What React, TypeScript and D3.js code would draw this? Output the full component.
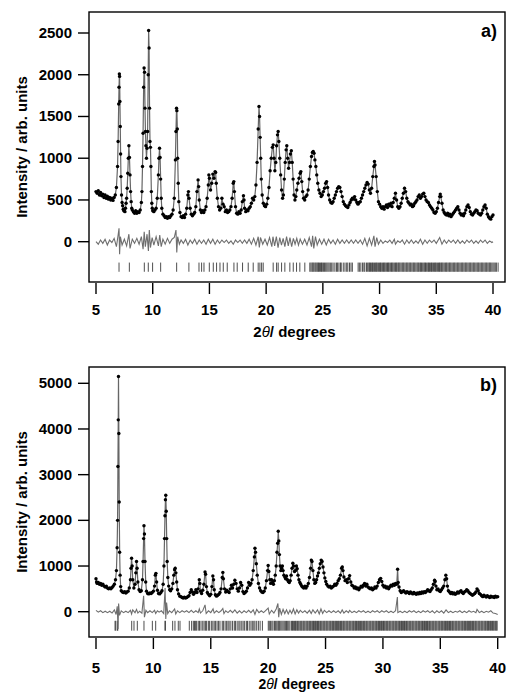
import React from "react";
import * as d3 from "d3";

// x ticks shared by both panels
const xTicks = [5, 10, 15, 20, 25, 30, 35, 40];
const yTicksA = [0, 500, 1000, 1500, 2000, 2500];
const yTicksB = [0, 1000, 2000, 3000, 4000, 5000];

// panel a) observed pattern, [2theta, intensity]
const obsA: [number, number][] = [
  [5.0, 600], [5.1, 580], [5.2, 610], [5.3, 560], [5.4, 590], [5.5, 550], [5.6, 570], [5.7, 530], [5.8, 560], [5.9, 520],
  [6.0, 545], [6.1, 510], [6.2, 530], [6.3, 500], [6.4, 520], [6.5, 495], [6.6, 530], [6.7, 560], [6.8, 650], [6.9, 900],
  [6.95, 1200], [7.0, 1650], [7.03, 1850], [7.06, 2010], [7.08, 1980], [7.11, 1680], [7.14, 1380], [7.17, 1050], [7.2, 780],
  [7.25, 560], [7.3, 470], [7.35, 430], [7.4, 390], [7.45, 370], [7.5, 380], [7.55, 360], [7.6, 400], [7.65, 460], [7.7, 520],
  [7.75, 640], [7.8, 820], [7.85, 1000], [7.9, 1150], [7.95, 1010], [8.0, 800], [8.05, 600], [8.1, 480], [8.15, 400], [8.2, 380],
  [8.3, 360], [8.4, 340], [8.5, 370], [8.6, 340], [8.7, 360], [8.8, 350], [8.9, 380], [9.0, 470], [9.05, 600], [9.1, 900],
  [9.15, 1300], [9.2, 1850], [9.24, 2080], [9.28, 2030], [9.32, 1600], [9.36, 1320], [9.4, 1150], [9.45, 1000], [9.5, 1120],
  [9.55, 1320], [9.6, 2000], [9.64, 2530], [9.68, 2320], [9.72, 1600], [9.76, 1200], [9.8, 1130], [9.84, 900], [9.88, 600],
  [9.92, 460], [9.96, 400], [10.0, 370], [10.1, 360], [10.2, 380], [10.3, 400], [10.4, 520], [10.5, 800], [10.55, 1000],
  [10.6, 1120], [10.65, 1010], [10.7, 750], [10.75, 520], [10.8, 400], [10.9, 330], [11.0, 310], [11.1, 290], [11.2, 300],
  [11.3, 280], [11.4, 300], [11.5, 290], [11.6, 310], [11.7, 330], [11.8, 380], [11.9, 520], [12.0, 980], [12.05, 1320],
  [12.1, 1600], [12.13, 1570], [12.17, 1350], [12.2, 1000], [12.25, 700], [12.3, 480], [12.4, 350], [12.5, 300], [12.6, 290],
  [12.7, 310], [12.8, 290], [12.9, 330], [13.0, 400], [13.1, 560], [13.15, 600], [13.2, 520], [13.3, 400], [13.4, 330],
  [13.5, 310], [13.6, 330], [13.7, 350], [13.8, 420], [13.9, 600], [14.0, 740], [14.05, 660], [14.1, 500], [14.2, 380],
  [14.3, 350], [14.4, 370], [14.5, 350], [14.6, 380], [14.7, 420], [14.8, 520], [14.9, 680], [14.95, 800], [15.0, 760],
  [15.1, 620], [15.2, 700], [15.3, 810], [15.4, 760], [15.5, 840], [15.55, 830], [15.6, 700], [15.7, 520], [15.8, 420],
  [15.9, 380], [16.0, 400], [16.1, 520], [16.2, 450], [16.3, 420], [16.4, 360], [16.5, 380], [16.6, 350], [16.7, 360],
  [16.8, 380], [16.9, 420], [17.0, 520], [17.1, 700], [17.15, 720], [17.2, 600], [17.3, 420], [17.4, 340], [17.5, 330],
  [17.6, 360], [17.7, 340], [17.8, 380], [17.9, 480], [18.0, 550], [18.05, 500], [18.1, 400], [18.2, 360], [18.3, 380],
  [18.4, 370], [18.5, 400], [18.6, 420], [18.7, 460], [18.8, 520], [18.9, 500], [19.0, 540], [19.1, 680], [19.2, 950],
  [19.3, 1350], [19.37, 1620], [19.42, 1500], [19.47, 1250], [19.52, 1000], [19.57, 750], [19.65, 560], [19.75, 460],
  [19.85, 430], [19.95, 420], [20.05, 450], [20.15, 520], [20.25, 650], [20.35, 850], [20.45, 1000], [20.55, 1130],
  [20.62, 1160], [20.7, 1000], [20.77, 850], [20.85, 950], [20.92, 1150], [21.0, 1280], [21.06, 1320], [21.12, 1200],
  [21.2, 1000], [21.28, 800], [21.36, 620], [21.45, 520], [21.52, 560], [21.6, 750], [21.68, 950], [21.76, 1100],
  [21.82, 1150], [21.9, 1000], [21.98, 880], [22.06, 950], [22.14, 1050], [22.22, 1090], [22.3, 950], [22.38, 750],
  [22.46, 560], [22.54, 500], [22.62, 540], [22.7, 620], [22.8, 700], [22.9, 760], [23.0, 820], [23.06, 840], [23.14, 720],
  [23.22, 600], [23.3, 520], [23.4, 500], [23.5, 540], [23.6, 560], [23.7, 620], [23.8, 750], [23.9, 900], [24.0, 1020],
  [24.08, 1070], [24.15, 1080], [24.22, 1060], [24.3, 980], [24.38, 900], [24.46, 800], [24.55, 700], [24.65, 620],
  [24.75, 580], [24.85, 540], [24.95, 560], [25.05, 600], [25.15, 640], [25.25, 700], [25.33, 720], [25.42, 650],
  [25.5, 560], [25.6, 500], [25.7, 470], [25.8, 460], [25.9, 480], [26.0, 520], [26.1, 560], [26.2, 600], [26.3, 640],
  [26.4, 660], [26.5, 650], [26.6, 600], [26.7, 540], [26.8, 480], [26.9, 450], [27.0, 430], [27.1, 420], [27.2, 410],
  [27.3, 440], [27.4, 470], [27.5, 500], [27.6, 520], [27.7, 510], [27.8, 540], [27.9, 500], [28.0, 470], [28.1, 450],
  [28.2, 470], [28.3, 480], [28.4, 520], [28.5, 560], [28.6, 600], [28.7, 640], [28.8, 680], [28.9, 710], [29.0, 690],
  [29.1, 620], [29.2, 580], [29.3, 640], [29.4, 780], [29.5, 900], [29.55, 960], [29.6, 920], [29.7, 780], [29.8, 600],
  [29.9, 480], [30.0, 450], [30.1, 420], [30.2, 400], [30.3, 420], [30.4, 390], [30.5, 420], [30.6, 440], [30.7, 410],
  [30.8, 450], [30.9, 430], [31.0, 460], [31.1, 420], [31.2, 470], [31.3, 520], [31.4, 580], [31.5, 500], [31.6, 420],
  [31.7, 400], [31.8, 420], [31.9, 460], [32.0, 520], [32.1, 580], [32.2, 640], [32.3, 600], [32.4, 520], [32.5, 480],
  [32.6, 460], [32.7, 440], [32.8, 450], [32.9, 420], [33.0, 430], [33.1, 460], [33.2, 480], [33.3, 500], [33.4, 540],
  [33.5, 560], [33.6, 520], [33.7, 540], [33.8, 570], [33.9, 580], [34.0, 540], [34.1, 500], [34.2, 480], [34.3, 470],
  [34.4, 440], [34.5, 420], [34.6, 400], [34.7, 380], [34.8, 350], [34.9, 340], [35.0, 360], [35.1, 400], [35.2, 470],
  [35.3, 540], [35.35, 570], [35.4, 540], [35.5, 460], [35.6, 380], [35.7, 350], [35.8, 330], [35.9, 320], [36.0, 340],
  [36.1, 310], [36.2, 330], [36.3, 300], [36.4, 320], [36.5, 340], [36.6, 360], [36.7, 380], [36.8, 400], [36.9, 420],
  [37.0, 380], [37.1, 340], [37.2, 320], [37.3, 330], [37.4, 310], [37.5, 340], [37.6, 380], [37.7, 420], [37.8, 440],
  [37.9, 410], [38.0, 360], [38.1, 330], [38.2, 320], [38.3, 340], [38.4, 360], [38.5, 380], [38.6, 370], [38.7, 340],
  [38.8, 330], [38.9, 320], [39.0, 340], [39.1, 380], [39.2, 420], [39.3, 440], [39.4, 400], [39.5, 330], [39.6, 300],
  [39.7, 280], [39.8, 270], [39.9, 300], [40.0, 320],
];

// panel a) difference curve
const residA: [number, number][] = [
  [5.0, 0], [5.2, -30], [5.4, 20], [5.6, -20], [5.8, 30], [6.0, -40], [6.2, 20], [6.4, -10], [6.6, 40], [6.8, -60],
  [6.95, 80], [7.03, 160], [7.08, -150], [7.15, 60], [7.3, -40], [7.5, 30], [7.7, -50], [7.9, 90], [8.0, -80], [8.2, 30],
  [8.4, -20], [8.6, 40], [8.8, -30], [9.0, 60], [9.15, -90], [9.25, 120], [9.35, -60], [9.5, 90], [9.62, -110], [9.7, 140],
  [9.8, -70], [9.95, 50], [10.1, -40], [10.3, 60], [10.5, -50], [10.62, 80], [10.75, -60], [10.9, 30], [11.1, -30],
  [11.3, 40], [11.5, -20], [11.7, 30], [11.9, 50], [12.05, 140], [12.12, -130], [12.2, 60], [12.35, -30], [12.5, 20],
  [12.7, -20], [12.9, 30], [13.1, -40], [13.3, 20], [13.5, -20], [13.7, 30], [13.9, -30], [14.1, 20], [14.3, -20],
  [14.5, 20], [14.7, -30], [14.9, 30], [15.1, -20], [15.3, 30], [15.5, -30], [15.7, 20], [15.9, -20], [16.1, 20],
  [16.3, -10], [16.5, 20], [16.7, -20], [16.9, 10], [17.1, -30], [17.3, 20], [17.5, -10], [17.7, 20], [17.9, -20],
  [18.1, 20], [18.3, -20], [18.5, 30], [18.7, -30], [18.9, 40], [19.1, -40], [19.3, 60], [19.4, -70], [19.5, 50],
  [19.7, -30], [19.9, 30], [20.1, -40], [20.3, 50], [20.5, -60], [20.6, 60], [20.75, -50], [20.9, 60], [21.05, -70],
  [21.2, 50], [21.35, -40], [21.5, 40], [21.65, -60], [21.8, 60], [21.95, -50], [22.1, 50], [22.25, -60], [22.4, 40],
  [22.55, -30], [22.7, 40], [22.85, -40], [23.0, 30], [23.2, -30], [23.4, 30], [23.6, -40], [23.8, 50], [24.0, -60],
  [24.1, 70], [24.2, -80], [24.35, 60], [24.5, -40], [24.7, 30], [24.9, -30], [25.1, 30], [25.3, -40], [25.5, 30],
  [25.7, -20], [25.9, 20], [26.1, -30], [26.3, 30], [26.5, -20], [26.7, 20], [26.9, -20], [27.1, 20], [27.3, -20],
  [27.5, 20], [27.7, -20], [27.9, 20], [28.1, -20], [28.3, 20], [28.5, -30], [28.7, 40], [28.9, -50], [29.1, 40],
  [29.3, -40], [29.5, 70], [29.6, -60], [29.75, 50], [29.9, -30], [30.1, 20], [30.3, -20], [30.5, 10], [30.7, -10],
  [30.9, 20], [31.1, -20], [31.3, 30], [31.4, -30], [31.6, 10], [31.8, -10], [32.0, 20], [32.2, -30], [32.4, 20],
  [32.6, -20], [32.8, 20], [33.0, -20], [33.2, 10], [33.4, -20], [33.6, 30], [33.8, -30], [34.0, 20], [34.2, -20],
  [34.4, 20], [34.6, -10], [34.8, 20], [35.0, -20], [35.3, 50], [35.5, -30], [35.7, 20], [35.9, -20], [36.1, 20],
  [36.3, -10], [36.5, 20], [36.7, -20], [36.9, 20], [37.1, -20], [37.3, 10], [37.5, -20], [37.7, 20], [37.9, -10],
  [38.1, 20], [38.3, -20], [38.5, 10], [38.7, -20], [38.9, 20], [39.1, -10], [39.3, 20], [39.5, -20], [39.7, 10],
  [39.9, -10], [40.0, 0],
];

// panel a) reflection positions
const reflA = [
  7.03, 7.94, 9.26, 9.61, 9.99, 10.7, 12.11, 13.19, 14.08, 14.31, 14.52, 14.99, 15.34, 15.63, 15.93, 16.22, 16.57,
  17.16, 17.45, 17.92, 18.42, 18.86, 19.3, 19.45, 19.6, 19.74, 20.62, 20.92, 21.06, 21.36, 21.65, 22.09, 22.39, 22.68,
  22.97, 23.41, 23.85, 23.95, 24.05, 24.12, 24.2, 24.3, 24.38, 24.47, 24.55, 24.62, 24.7, 24.8, 24.88, 24.95, 25.05,
  25.15, 25.25, 25.35, 25.45, 25.55, 25.66, 25.78, 25.9, 26.06, 26.2, 26.3, 26.42, 26.55, 26.62, 26.8, 26.95, 27.1,
  27.2, 27.35, 27.48, 27.6, 28.11, 28.22, 28.35, 28.5, 28.62, 28.7, 28.85, 28.95, 29.05, 29.12, 29.2, 29.3, 29.38,
  29.45, 29.55, 29.65, 29.72, 29.8, 29.9, 30.0, 30.08, 30.15, 30.25, 30.35, 30.42, 30.5, 30.6, 30.7, 30.78, 30.85,
  30.95, 31.05, 31.12, 31.2, 31.3, 31.4, 31.48, 31.55, 31.65, 31.72, 31.8, 31.9, 32.0, 32.08, 32.15, 32.25, 32.35,
  32.42, 32.5, 32.6, 32.68, 32.75, 32.85, 32.95, 33.02, 33.1, 33.2, 33.3, 33.38, 33.45, 33.55, 33.62, 33.7, 33.8,
  33.9, 33.98, 34.05, 34.15, 34.25, 34.32, 34.4, 34.5, 34.58, 34.65, 34.75, 34.85, 34.92, 35.0, 35.1, 35.2, 35.28,
  35.35, 35.45, 35.52, 35.6, 35.7, 35.8, 35.88, 35.95, 36.05, 36.15, 36.22, 36.3, 36.4, 36.5, 36.58, 36.65, 36.75,
  36.85, 36.92, 37.0, 37.1, 37.2, 37.28, 37.35, 37.45, 37.55, 37.62, 37.7, 37.8, 37.9, 37.98, 38.05, 38.15, 38.25,
  38.32, 38.4, 38.5, 38.6, 38.68, 38.75, 38.85, 38.95, 39.02, 39.1, 39.2, 39.3, 39.38, 39.45, 39.55, 39.65, 39.72,
  39.8, 39.9, 40.0, 40.1, 40.2, 40.3, 40.45,
];

// panel b) observed pattern
const obsB: [number, number][] = [
  [5.0, 720], [5.05, 650], [5.1, 620], [5.2, 640], [5.3, 600], [5.4, 620], [5.5, 580], [5.6, 600], [5.7, 560], [5.8, 540],
  [5.9, 560], [6.0, 520], [6.1, 500], [6.2, 520], [6.3, 500], [6.4, 530], [6.5, 560], [6.6, 600], [6.7, 700], [6.78, 900],
  [6.84, 1400], [6.88, 2000], [6.91, 3180], [6.94, 4200], [6.96, 5150], [6.99, 3900], [7.02, 2400], [7.06, 1300],
  [7.1, 800], [7.15, 550], [7.2, 460], [7.3, 430], [7.4, 420], [7.5, 440], [7.6, 410], [7.7, 430], [7.8, 450], [7.9, 520],
  [8.0, 700], [8.05, 950], [8.1, 1170], [8.15, 1000], [8.2, 700], [8.3, 520], [8.4, 600], [8.47, 850], [8.53, 1100],
  [8.58, 950], [8.65, 650], [8.75, 480], [8.85, 440], [8.95, 460], [9.05, 700], [9.1, 1100], [9.15, 1600], [9.18, 1880],
  [9.22, 1700], [9.27, 1100], [9.33, 650], [9.4, 450], [9.5, 400], [9.6, 390], [9.7, 410], [9.8, 400], [9.9, 420],
  [10.0, 450], [10.1, 560], [10.17, 800], [10.22, 840], [10.28, 650], [10.35, 470], [10.45, 400], [10.55, 390],
  [10.65, 420], [10.75, 460], [10.85, 600], [10.92, 1000], [10.97, 1600], [11.01, 2100], [11.05, 2450], [11.08, 2550],
  [11.12, 2200], [11.16, 1600], [11.2, 1100], [11.26, 750], [11.33, 560], [11.42, 480], [11.5, 460], [11.6, 500],
  [11.7, 620], [11.78, 800], [11.85, 920], [11.9, 950], [11.96, 850], [12.03, 650], [12.1, 480], [12.2, 390], [12.3, 340],
  [12.4, 330], [12.5, 310], [12.6, 300], [12.7, 320], [12.8, 300], [12.9, 310], [13.0, 330], [13.1, 350], [13.2, 420],
  [13.3, 480], [13.4, 430], [13.5, 380], [13.6, 420], [13.7, 480], [13.8, 420], [13.9, 500], [14.0, 700], [14.05, 620],
  [14.1, 450], [14.2, 400], [14.3, 470], [14.4, 600], [14.5, 870], [14.55, 820], [14.62, 550], [14.7, 420], [14.8, 380],
  [14.9, 350], [15.0, 380], [15.1, 550], [15.18, 780], [15.24, 700], [15.3, 480], [15.4, 370], [15.5, 340], [15.6, 360],
  [15.7, 380], [15.8, 420], [15.9, 500], [16.0, 750], [16.05, 860], [16.1, 720], [16.2, 500], [16.3, 430], [16.4, 470],
  [16.5, 440], [16.6, 420], [16.7, 500], [16.8, 580], [16.9, 520], [17.0, 600], [17.1, 690], [17.2, 620], [17.3, 500],
  [17.4, 450], [17.5, 520], [17.6, 640], [17.7, 580], [17.8, 440], [17.9, 400], [18.0, 420], [18.1, 450], [18.2, 520],
  [18.3, 640], [18.4, 580], [18.5, 620], [18.6, 700], [18.7, 900], [18.8, 1200], [18.85, 1390], [18.9, 1300],
  [18.97, 1050], [19.05, 800], [19.15, 620], [19.25, 520], [19.35, 460], [19.45, 430], [19.55, 420], [19.65, 450],
  [19.75, 520], [19.85, 680], [19.95, 900], [20.0, 1010], [20.06, 880], [20.14, 700], [20.22, 620], [20.3, 700],
  [20.38, 640], [20.46, 600], [20.54, 680], [20.62, 800], [20.7, 1000], [20.77, 1300], [20.83, 1500], [20.88, 1760],
  [20.93, 1550], [20.98, 1250], [21.04, 1000], [21.1, 900], [21.17, 950], [21.24, 1000], [21.3, 900], [21.37, 800],
  [21.45, 760], [21.52, 720], [21.6, 780], [21.68, 700], [21.76, 660], [21.84, 640], [21.92, 680], [22.0, 800],
  [22.08, 950], [22.15, 1060], [22.22, 1000], [22.3, 880], [22.38, 900], [22.46, 1000], [22.53, 940], [22.6, 800],
  [22.68, 700], [22.76, 640], [22.84, 600], [22.92, 560], [23.0, 540], [23.1, 520], [23.2, 560], [23.3, 520], [23.4, 560],
  [23.5, 620], [23.6, 750], [23.7, 950], [23.76, 1130], [23.82, 1100], [23.9, 900], [23.98, 700], [24.06, 620],
  [24.14, 640], [24.22, 700], [24.3, 780], [24.38, 850], [24.46, 950], [24.54, 1050], [24.62, 1130], [24.7, 1100],
  [24.78, 980], [24.86, 850], [24.94, 740], [25.02, 660], [25.1, 600], [25.2, 560], [25.3, 540], [25.4, 560], [25.5, 520],
  [25.6, 540], [25.7, 560], [25.8, 600], [25.9, 580], [26.0, 620], [26.1, 680], [26.2, 720], [26.3, 800], [26.4, 950],
  [26.46, 980], [26.52, 900], [26.6, 760], [26.7, 680], [26.8, 700], [26.9, 640], [27.0, 720], [27.1, 790], [27.2, 650],
  [27.3, 580], [27.4, 560], [27.5, 520], [27.6, 540], [27.7, 500], [27.8, 520], [27.9, 480], [28.0, 520], [28.1, 560],
  [28.2, 540], [28.3, 580], [28.4, 620], [28.5, 560], [28.6, 600], [28.7, 540], [28.8, 520], [28.9, 500], [29.0, 520],
  [29.1, 480], [29.2, 500], [29.3, 540], [29.4, 520], [29.5, 560], [29.6, 640], [29.7, 700], [29.8, 730], [29.9, 660],
  [30.0, 580], [30.1, 540], [30.2, 560], [30.3, 520], [30.4, 540], [30.5, 500], [30.6, 540], [30.7, 580], [30.8, 560],
  [30.9, 600], [31.0, 580], [31.1, 620], [31.2, 600], [31.28, 930], [31.33, 640], [31.4, 540], [31.5, 460], [31.6, 420],
  [31.7, 440], [31.8, 460], [31.9, 430], [32.0, 410], [32.1, 440], [32.2, 420], [32.3, 400], [32.4, 430], [32.5, 410],
  [32.6, 390], [32.7, 420], [32.8, 400], [32.9, 380], [33.0, 410], [33.1, 390], [33.2, 420], [33.3, 400], [33.4, 430],
  [33.5, 410], [33.6, 440], [33.7, 420], [33.8, 450], [33.9, 480], [34.0, 460], [34.1, 440], [34.2, 480], [34.3, 520],
  [34.4, 600], [34.5, 690], [34.55, 660], [34.62, 560], [34.7, 480], [34.8, 500], [34.9, 460], [35.0, 440], [35.1, 480],
  [35.2, 520], [35.3, 560], [35.4, 700], [35.48, 800], [35.55, 720], [35.62, 560], [35.7, 460], [35.8, 430], [35.9, 400],
  [36.0, 420], [36.1, 390], [36.2, 410], [36.3, 380], [36.4, 400], [36.5, 430], [36.6, 410], [36.7, 440], [36.8, 460],
  [36.9, 420], [37.0, 400], [37.1, 430], [37.2, 450], [37.3, 480], [37.4, 460], [37.5, 420], [37.6, 400], [37.7, 380],
  [37.8, 360], [37.9, 380], [38.0, 400], [38.1, 430], [38.2, 500], [38.3, 460], [38.4, 400], [38.5, 380], [38.6, 350],
  [38.7, 330], [38.8, 360], [38.9, 340], [39.0, 320], [39.1, 350], [39.2, 330], [39.3, 310], [39.4, 340], [39.5, 320],
  [39.6, 330], [39.7, 310], [39.8, 340], [39.9, 320], [40.0, 330],
];

// panel b) difference curve
const residB: [number, number][] = [
  [5.0, 30], [5.2, -10], [5.4, 20], [5.6, -20], [5.8, 10], [6.0, -20], [6.2, 10], [6.4, -30], [6.6, 40], [6.75, -60],
  [6.85, 120], [6.92, -380], [6.97, 180], [7.05, -80], [7.2, 20], [7.4, -20], [7.6, 10], [7.8, -20], [8.0, 30],
  [8.1, -50], [8.2, 40], [8.4, -20], [8.53, 50], [8.65, -30], [8.8, 10], [9.0, -30], [9.15, 350], [9.22, -120],
  [9.35, 30], [9.5, -20], [9.7, 20], [9.9, -20], [10.1, 30], [10.2, -40], [10.35, 20], [10.5, -10], [10.7, 20],
  [10.9, -40], [11.02, 520], [11.08, -160], [11.15, 200], [11.25, -40], [11.4, 20], [11.6, -20], [11.85, 60],
  [11.95, -50], [12.1, 20], [12.3, -20], [12.5, 20], [12.7, -10], [12.9, 20], [13.1, -20], [13.3, 30], [13.5, -20],
  [13.7, 20], [13.9, -20], [14.0, 60], [14.1, -30], [14.3, 20], [14.5, 150], [14.6, -40], [14.8, 20], [15.0, -20],
  [15.2, 60], [15.3, -30], [15.5, 20], [15.7, -20], [15.9, 20], [16.05, 70], [16.15, -40], [16.3, 20], [16.5, -20],
  [16.7, 30], [16.9, -20], [17.1, 40], [17.3, -30], [17.5, 20], [17.7, -30], [17.9, 20], [18.1, -20], [18.3, 30],
  [18.5, -20], [18.7, 40], [18.85, -60], [19.0, 50], [19.2, -20], [19.4, 20], [19.6, -20], [19.8, 30], [20.0, 80],
  [20.1, -50], [20.3, 30], [20.5, -30], [20.7, 60], [20.85, 180], [20.92, -120], [21.0, 80], [21.15, -60], [21.3, 50],
  [21.45, -40], [21.6, 40], [21.75, -50], [21.9, 30], [22.05, -40], [22.2, 60], [22.35, -50], [22.5, 40], [22.65, -30],
  [22.8, 30], [23.0, -20], [23.2, 20], [23.4, -30], [23.6, 30], [23.75, -40], [23.9, 40], [24.1, -30], [24.3, 40],
  [24.45, -50], [24.6, 60], [24.75, -40], [24.9, 30], [25.1, -20], [25.3, 20], [25.5, -20], [25.7, 20], [25.9, -20],
  [26.1, 20], [26.3, -30], [26.45, 40], [26.6, -30], [26.8, 20], [27.0, -20], [27.1, 30], [27.3, -20], [27.5, 10],
  [27.7, -20], [27.9, 20], [28.1, -10], [28.3, 20], [28.5, -20], [28.7, 10], [28.9, -20], [29.1, 20], [29.3, -10],
  [29.5, 20], [29.7, -20], [29.9, 20], [30.1, -10], [30.3, 20], [30.5, -20], [30.7, 10], [30.9, -20], [31.1, 20],
  [31.26, 320], [31.3, -20], [31.5, 10], [31.7, -20], [31.9, 10], [32.1, -20], [32.3, 20], [32.5, -10], [32.7, 20],
  [32.9, -20], [33.1, 10], [33.3, -20], [33.5, 20], [33.7, -10], [33.9, 20], [34.1, -20], [34.3, 20], [34.5, -30],
  [34.7, 20], [34.9, -20], [35.1, 20], [35.3, -30], [35.5, 40], [35.7, -20], [35.9, 10], [36.1, -20], [36.3, 10],
  [36.5, -10], [36.7, 20], [36.9, -20], [37.1, 10], [37.3, -20], [37.5, 20], [37.7, -10], [37.9, 10], [38.1, -20],
  [38.2, 50], [38.4, -20], [38.6, 10], [38.8, -20], [39.0, 10], [39.2, -10], [39.4, 20], [39.6, -30], [39.8, -40],
  [40.0, -60],
];

// panel b) reflection positions
const reflB = [
  6.66, 6.72, 6.86, 6.9, 8.11, 8.31, 8.6, 9.18, 9.91, 10.2, 11.01, 11.05, 11.68, 11.88, 12.17, 12.32, 13.13, 13.33,
  13.48, 13.58, 13.68, 13.77, 13.91, 14.02, 14.15, 14.3, 14.42, 14.55, 14.64, 14.79, 14.9, 15.05, 15.18, 15.3, 15.42,
  15.55, 15.68, 15.8, 16.0, 16.1, 16.25, 16.38, 16.5, 16.6, 16.75, 16.9, 17.05, 17.15, 17.3, 17.45, 17.55, 17.7,
  17.82, 17.95, 18.1, 18.2, 18.35, 18.5, 18.62, 18.75, 18.85, 19.0, 19.15, 19.3, 19.5, 20.01, 20.1, 20.2, 20.32,
  20.42, 20.55, 20.65, 20.75, 20.85, 20.92, 21.0, 21.1, 21.2, 21.3, 21.4, 21.5, 21.6, 21.7, 21.8, 21.9, 22.04,
  22.12, 22.2, 22.3, 22.38, 22.45, 22.55, 22.62, 22.7, 22.8, 22.88, 22.95, 23.05, 23.12, 23.2, 23.3, 23.38, 23.45,
  23.55, 23.62, 23.7, 23.8, 23.88, 23.95, 24.05, 24.12, 24.2, 24.3, 24.38, 24.45, 24.55, 24.62, 24.7, 24.8, 24.88,
  24.95, 25.05, 25.12, 25.2, 25.3, 25.38, 25.45, 25.55, 25.62, 25.7, 25.8, 25.88, 25.95, 26.05, 26.12, 26.2, 26.3,
  26.38, 26.45, 26.55, 26.62, 26.7, 26.8, 26.88, 26.95, 27.05, 27.12, 27.2, 27.3, 27.38, 27.45, 27.55, 27.62, 27.7,
  27.8, 27.88, 27.95, 28.05, 28.12, 28.2, 28.3, 28.38, 28.45, 28.55, 28.62, 28.7, 28.8, 28.88, 28.95, 29.05, 29.12,
  29.2, 29.3, 29.38, 29.45, 29.55, 29.62, 29.7, 29.8, 29.88, 29.95, 30.05, 30.12, 30.2, 30.3, 30.38, 30.45, 30.55,
  30.62, 30.7, 30.8, 30.88, 30.95, 31.05, 31.12, 31.2, 31.3, 31.38, 31.45, 31.55, 31.62, 31.7, 31.8, 31.88, 31.95,
  32.05, 32.12, 32.2, 32.3, 32.38, 32.45, 32.55, 32.62, 32.7, 32.8, 32.88, 32.95, 33.05, 33.12, 33.2, 33.3, 33.38,
  33.45, 33.55, 33.62, 33.7, 33.8, 33.88, 33.95, 34.05, 34.12, 34.2, 34.3, 34.38, 34.45, 34.55, 34.62, 34.7, 34.8,
  34.88, 34.95, 35.05, 35.12, 35.2, 35.3, 35.38, 35.45, 35.55, 35.62, 35.7, 35.8, 35.88, 35.95, 36.05, 36.12, 36.2,
  36.3, 36.38, 36.45, 36.55, 36.62, 36.7, 36.8, 36.88, 36.95, 37.05, 37.12, 37.2, 37.3, 37.38, 37.45, 37.55, 37.62,
  37.7, 37.8, 37.88, 37.95, 38.05, 38.12, 38.2, 38.3, 38.38, 38.45, 38.55, 38.62, 38.7, 38.8, 38.88, 38.95, 39.05,
  39.12, 39.2, 39.3, 39.38, 39.45, 39.55, 39.62, 39.7, 39.8, 39.88, 39.95,
];

const FONT = "'Liberation Sans', Arial, Helvetica, sans-serif";

type PanelProps = {
  obs: [number, number][];
  resid: [number, number][];
  refl: number[];
  reflBand: [number, number];
  yTicks: number[];
  yMax: number;
  frame: { x0: number; x1: number; y0: number; y1: number };
  xRange: [number, number];
  yRange: [number, number];
  tag: string;
  tagY: number;
  xLabelY: number;
  xTitleY: number;
  xTitleSize: number;
};

function Panel(p: PanelProps) {
  const x = d3.scaleLinear().domain([5, 40]).range(p.xRange);
  const y = d3.scaleLinear().domain([0, p.yMax]).range(p.yRange);
  const line = d3.line<[number, number]>().x(d => x(d[0])).y(d => y(d[1]));
  const { x0, x1, y0, y1 } = p.frame;
  const yMid = (y0 + y1) / 2;
  const xMid = (x(5) + x(40)) / 2;

  return (
    <g fontFamily={FONT} fontWeight="bold">
      {/* reflection markers */}
      <g stroke="#3a3a3a" strokeWidth={0.9}>
        {p.refl.map((t, i) => (
          <line key={i} x1={x(t)} x2={x(t)} y1={y(p.reflBand[0])} y2={y(p.reflBand[1])} />
        ))}
      </g>
      {/* difference curve */}
      <path d={line(p.resid) || ""} fill="none" stroke="#6e6e6e" strokeWidth={1.1} />
      {/* calculated profile */}
      <path d={line(p.obs) || ""} fill="none" stroke="#666" strokeWidth={1.2} />
      {/* observed points */}
      <g fill="#000">
        {p.obs.map((d, i) => (
          <circle key={i} cx={x(d[0])} cy={y(d[1])} r={1.7} />
        ))}
      </g>
      <rect x={x0} y={y0} width={x1 - x0} height={y1 - y0} fill="none" stroke="#000" strokeWidth={1.4} />
      {/* y axis */}
      {p.yTicks.map(v => (
        <g key={v}>
          <line x1={x0 - 11} x2={x0} y1={y(v)} y2={y(v)} stroke="#000" strokeWidth={1.4} />
          <text x={x0 - 17} y={y(v) + 5} textAnchor="end" fontSize={15}>{v}</text>
        </g>
      ))}
      {/* x axis */}
      {xTicks.map(v => (
        <g key={v}>
          <line x1={x(v)} x2={x(v)} y1={y1 + 1} y2={y1 + 12} stroke="#000" strokeWidth={1.4} />
          <text x={x(v)} y={p.xLabelY} textAnchor="middle" fontSize={15}>{v}</text>
        </g>
      ))}
      <text x={xMid} y={p.xTitleY} textAnchor="middle" fontSize={p.xTitleSize}>
        2<tspan fontStyle="italic" fontWeight="normal">θ</tspan>/ degrees
      </text>
      <text transform={`translate(27,${yMid}) rotate(-90)`} textAnchor="middle" fontSize={15}>
        Intensity / arb. units
      </text>
      <text x={497} y={p.tagY} textAnchor="end" fontSize={18}>{p.tag}</text>
    </g>
  );
}

export default function App() {
  return (
    <svg width={507} height={694} style={{ position: "absolute", left: 0, top: 0, background: "#fff" }}>
      <Panel
        obs={obsA}
        resid={residA}
        refl={reflA}
        reflBand={[-250, -360]}
        yTicks={yTicksA}
        yMax={2500}
        frame={{ x0: 89, x1: 505, y0: 12, y1: 282 }}
        xRange={[96, 493]}
        yRange={[241.7, 33]}
        tag="a)"
        tagY={37}
        xLabelY={315}
        xTitleY={337}
        xTitleSize={15}
      />
      <Panel
        obs={obsB}
        resid={residB}
        refl={reflB}
        reflBand={[-200, -415]}
        yTicks={yTicksB}
        yMax={5000}
        frame={{ x0: 89, x1: 505, y0: 367, y1: 637 }}
        xRange={[96, 497.7]}
        yRange={[611.7, 383.3]}
        tag="b)"
        tagY={391}
        xLabelY={673}
        xTitleY={689}
        xTitleSize={14}
      />
    </svg>
  );
}
